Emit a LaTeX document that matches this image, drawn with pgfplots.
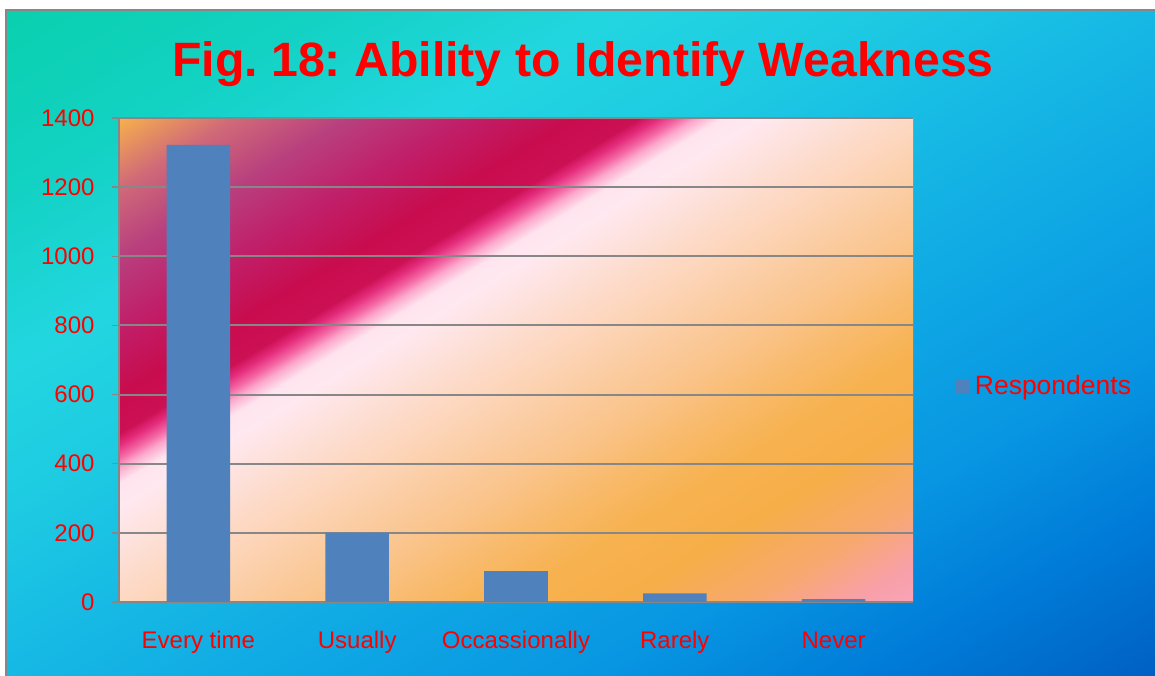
\documentclass[border=0pt]{standalone}
\usepackage{fontspec}
\setmainfont{Liberation Sans}
\usepackage{pgfplots}
\pgfplotsset{compat=1.18}
\frenchspacing
\definecolor{barblue}{HTML}{4F81BD}
\definecolor{gridgray}{HTML}{878787}
\definecolor{o1}{HTML}{0AD0AE}
\definecolor{o2}{HTML}{12D2C2}
\definecolor{o3}{HTML}{22D6E0}
\definecolor{o4}{HTML}{1ECCE2}
\definecolor{o5}{HTML}{16B8E4}
\definecolor{o6}{HTML}{0EA6E4}
\definecolor{o7}{HTML}{0896E2}
\definecolor{o8}{HTML}{007CD8}
\definecolor{o9}{HTML}{0060C2}
\definecolor{p1}{HTML}{F7B04C}
\definecolor{p2}{HTML}{D06A78}
\definecolor{p3}{HTML}{B8407E}
\definecolor{p4}{HTML}{C0206A}
\definecolor{p5}{HTML}{C80C4E}
\definecolor{p6}{HTML}{CC1054}
\definecolor{p7}{HTML}{E42C7C}
\definecolor{p8}{HTML}{F468A4}
\definecolor{p9}{HTML}{FCA8CC}
\definecolor{p10}{HTML}{FFE4EE}
\definecolor{p11}{HTML}{FFE8F0}
\definecolor{p12}{HTML}{FDE0D8}
\definecolor{p13}{HTML}{FDD8C2}
\definecolor{p14}{HTML}{FBCEA6}
\definecolor{p15}{HTML}{FAC48C}
\definecolor{p16}{HTML}{F8BA6C}
\definecolor{p17}{HTML}{F7B250}
\definecolor{p18}{HTML}{F6AE48}
\definecolor{p19}{HTML}{F7A870}
\definecolor{p20}{HTML}{F8A0A8}
\definecolor{p21}{HTML}{F9A4BC}
\pgfdeclarehorizontalshading{outerbg}{100bp}{color(0bp)=(o1); color(25.17bp)=(o1); color(31.9bp)=(o2); color(38.36bp)=(o3); color(43.53bp)=(o4); color(50bp)=(o5); color(56.47bp)=(o6); color(62.5bp)=(o7); color(68.53bp)=(o8); color(74.83bp)=(o9); color(100bp)=(o9)}
\pgfdeclarehorizontalshading{plotbg}{100bp}{color(0bp)=(p1); color(25.48bp)=(p1); color(28.99bp)=(p2); color(32.5bp)=(p3); color(36.01bp)=(p4); color(39.52bp)=(p5); color(41.49bp)=(p6); color(42.08bp)=(p7); color(42.74bp)=(p8); color(43.27bp)=(p9); color(44.05bp)=(p10); color(45.24bp)=(p11); color(47.62bp)=(p12); color(50bp)=(p13); color(52.98bp)=(p14); color(55.95bp)=(p15); color(58.93bp)=(p16); color(61.9bp)=(p17); color(65.48bp)=(p18); color(69.64bp)=(p19); color(72.62bp)=(p20); color(75bp)=(p21); color(100bp)=(p21)}
\begin{document}
\begin{tikzpicture}[x=1bp,y=1bp]
\useasboundingbox (0,0) rectangle (1155,676);
% outer background
\begin{scope}
\clip (6,-5) rectangle (1165,666);
\begin{scope}[transform canvas={rotate around={-59.9:(580.5,333)}}]
\shade[shading=outerbg] (0.5,-367) rectangle (1160.5,1033);
\end{scope}
\end{scope}
\draw[gridgray, line width=2bp] (6,-10) -- (6,666) -- (1170,666);
% plot-area background
\begin{scope}
\clip (119,74) rectangle (913,558);
\begin{scope}[transform canvas={rotate around={-58.8:(516,316)}}]
\shade[shading=plotbg] (96,-284) rectangle (936,916);
\end{scope}
\end{scope}
\node[font=\fontsize{48.2bp}{56bp}\selectfont\bfseries, text=red, anchor=base] at (583,599) {Fig. 18: Ability to Identify Weakness};
\begin{axis}[
  at={(119bp,74bp)}, anchor=south west,
  width=794bp, height=484bp, scale only axis,
  xmin=-0.5, xmax=4.5, ymin=0, ymax=1400,
  ytick={0,200,...,1400},
  xtick={0,1,2,3,4},
  xticklabels={Every time, Usually, Occassionally, Rarely, Never},
  x tick style={draw=none},
  extra x ticks={-0.5,0.5,1.5,2.5,3.5,4.5},
  extra x tick labels={},
  extra x tick style={grid=none, tick style={draw=gridgray, line width=1.5bp}},
  axis x line*=bottom, axis y line*=left,
  axis line style={draw=gridgray, line width=1.5bp, -},
  ymajorgrids, grid style={draw=gridgray, line width=2bp},
  tick align=outside, major tick length=7bp,
  y tick style={draw=gridgray, line width=1.5bp},
  /pgf/number format/assume math mode=true,
  /pgf/number format/1000 sep={},
  ticklabel style={text=red, font=\fontsize{24bp}{28bp}\selectfont},
  yticklabel style={xshift=-14bp},
  xticklabel style={yshift=-19bp},
  legend style={at={(1.05,0.446)}, anchor=west, draw=none, fill=none,
    font=\fontsize{26.5bp}{30bp}\selectfont, text=red},
  legend image code/.code={\fill[barblue] (0bp,-6.5bp) rectangle (13bp,6.5bp); \path (17bp,0bp);},
]
\addplot[ybar, bar width=0.4, fill=barblue, draw=none] coordinates {(0,1322) (1,201) (2,89) (3,25) (4,8)};
\addlegendentry{Respondents}
\end{axis}
\end{tikzpicture}
\end{document}
